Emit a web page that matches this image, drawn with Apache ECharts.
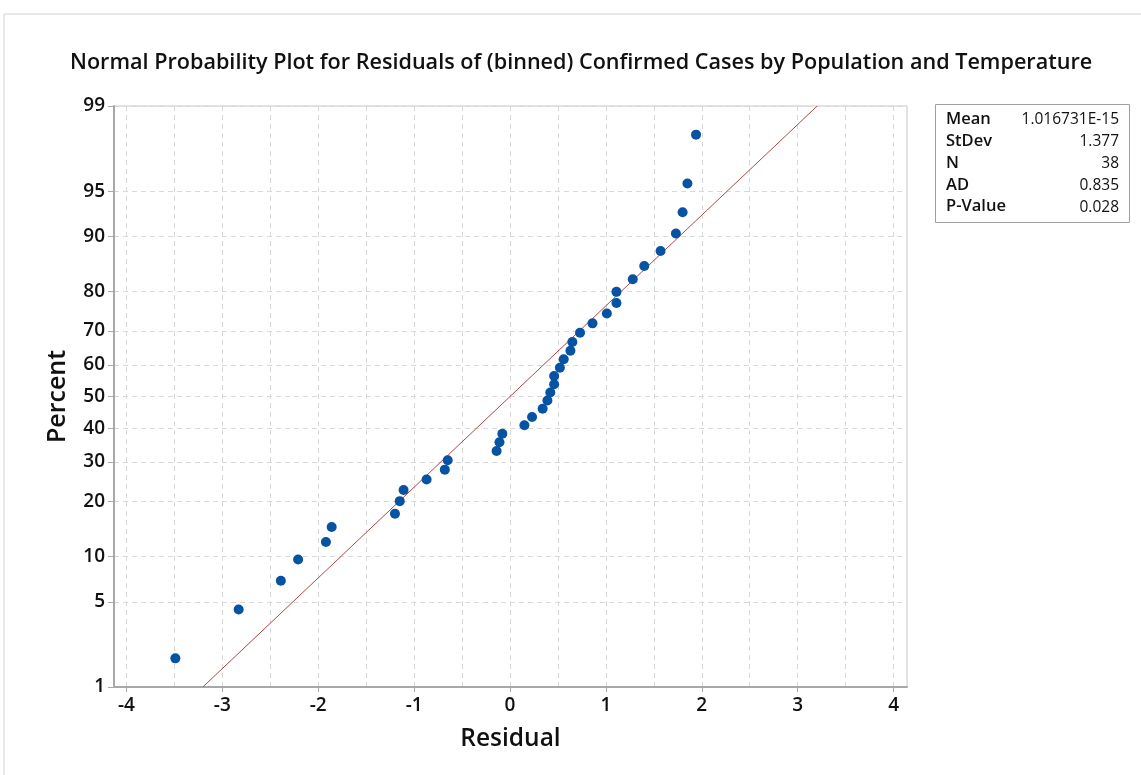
<!DOCTYPE html>
<html><head><meta charset="utf-8">
<script src="https://cdn.jsdelivr.net/npm/echarts@6/dist/echarts.min.js"></script>
<style>html,body{margin:0;padding:0;background:#fff}#c{width:1141px;height:775px}</style>
</head><body><div id="c"></div>
<script>
// Residuals (sorted)
const residuals = [-3.49,-2.83,-2.39,-2.21,-1.92,-1.86,-1.20,-1.15,-1.11,-0.87,-0.68,-0.65,-0.14,-0.11,-0.08,
  0.15,0.23,0.34,0.39,0.42,0.46,0.46,0.52,0.56,0.63,0.65,0.73,0.86,1.01,1.11,1.11,1.28,1.40,1.57,1.73,1.80,1.85,1.94];
// Percent (plotting positions)
const percents = [1.8,4.4,7.0,9.6,12.2,14.8,17.4,20.1,22.7,25.3,27.9,30.5,33.1,35.7,38.3,40.9,43.5,46.1,48.7,
  51.3,53.9,56.5,59.1,61.7,64.3,66.9,69.5,72.1,74.7,77.3,79.9,82.6,85.2,87.8,90.4,93.0,95.6,98.2];
const yTickLabels = [1,5,10,20,30,40,50,60,70,80,90,95,99];
const xTickLabels = [-4,-3,-2,-1,0,1,2,3,4];
const xGridValues = [-4,-3.5,-3,-2.5,-2,-1.5,-1,-0.5,0,0.5,1,1.5,2,2.5,3,3.5,4];
const statLabels = ['Mean','StDev','N','AD','P-Value'];
const statValues = ['1.016731E-15','1.377','38','0.835','0.028'];
const fitMean = 1.016731e-15, fitSd = 1.377;

// Normal probability scale (inverse normal CDF)
function probit(p){
 const a=[-3.969683028665376e+01,2.209460984245205e+02,-2.759285104469687e+02,1.383577518672690e+02,-3.066479806614716e+01,2.506628277459239e+00];
 const b=[-5.447609879822406e+01,1.615858368580409e+02,-1.556989798598866e+02,6.680131188771972e+01,-1.328068155288572e+01];
 const c=[-7.784894002430293e-03,-3.223964580411365e-01,-2.400758277161838e+00,-2.549732539343734e+00,4.374664141464968e+00,2.938163982698783e+00];
 const d=[7.784695709041462e-03,3.224671290700398e-01,2.445134137142996e+00,3.754408661907416e+00];
 const pl=0.02425, ph=1-pl; let q,r;
 if(p<pl){q=Math.sqrt(-2*Math.log(p));return (((((c[0]*q+c[1])*q+c[2])*q+c[3])*q+c[4])*q+c[5])/((((d[0]*q+d[1])*q+d[2])*q+d[3])*q+1);}
 if(p>ph){q=Math.sqrt(-2*Math.log(1-p));return -(((((c[0]*q+c[1])*q+c[2])*q+c[3])*q+c[4])*q+c[5])/((((d[0]*q+d[1])*q+d[2])*q+d[3])*q+1);}
 q=p-0.5;r=q*q;return (((((a[0]*r+a[1])*r+a[2])*r+a[3])*r+a[4])*r+a[5])*q/(((((b[0]*r+b[1])*r+b[2])*r+b[3])*r+b[4])*r+1);
}
const yTickZ = yTickLabels.map(v=>probit(v/100));
const zMin = yTickZ[0], zMax = yTickZ[yTickZ.length-1];
const points = residuals.map((x,i)=>[x, probit(percents[i]/100)]);
const fitLine = [[fitMean+fitSd*zMin, zMin],[fitMean+fitSd*zMax, zMax]];

const FONT = '"Open Sans", "Noto Sans", sans-serif';
const chart = echarts.init(document.getElementById('c'), null, {renderer:'canvas'});
const gridCol = '#d9d9d9';
const graphic = [
  {type:'rect', shape:{x:4,y:14,width:1160,height:800}, style:{fill:'none',stroke:'#d0d0d0',lineWidth:1}, z:-10, silent:true},
  {type:'rect', shape:{x:935.5,y:104.5,width:194,height:118}, style:{fill:'#fff',stroke:'#a0a0a0',lineWidth:1}}
];
statLabels.forEach((l,i)=>{
  graphic.push({type:'text', left:946, top:111+i*21.8, style:{text:l, font:'600 16.5px '+FONT, fill:'#111'}});
  graphic.push({type:'text', right:1141-1119, top:112+i*21.8, style:{text:statValues[i], font:'15.5px '+FONT, fill:'#111', align:'right'}});
});

chart.setOption({
  backgroundColor:'#fff',
  animation:false,
  title:{text:'Normal Probability Plot for Residuals of (binned) Confirmed Cases by Population and Temperature',
    left:70, top:52, padding:0,
    textStyle:{fontFamily:FONT, fontSize:21.6, fontWeight:600, color:'#111'}},
  grid:{left:114, right:234, top:106, bottom:88, show:true, borderColor:'#c8c8c8', borderWidth:1, containLabel:false},
  xAxis:[{
    type:'value', min:-4.13, max:4.14, name:'Residual', nameLocation:'middle', nameGap:40,
    nameTextStyle:{fontFamily:FONT, fontSize:24.5, fontWeight:600, color:'#111'},
    axisLine:{show:true, onZero:false, lineStyle:{color:'#a8a8a8', width:2}},
    axisTick:{show:true, customValues:xTickLabels, length:5, lineStyle:{color:'#a8a8a8'}},
    axisLabel:{customValues:xTickLabels, fontFamily:FONT, fontSize:19, fontWeight:600, color:'#111', margin:9},
    splitLine:{show:false}
  },{
    type:'value', min:-4.13, max:4.14, position:'bottom',
    axisLine:{show:false}, axisTick:{show:false, customValues:xGridValues}, axisLabel:{show:false, customValues:xGridValues},
    splitLine:{show:true, lineStyle:{color:gridCol, type:[5,4], width:1}}
  }],
  yAxis:{
    type:'value', min:zMin, max:zMax, name:'Percent', nameLocation:'middle', nameGap:44, nameRotate:90,
    nameTextStyle:{fontFamily:FONT, fontSize:25, fontWeight:600, color:'#111'},
    axisLine:{show:true, onZero:false, lineStyle:{color:'#a8a8a8', width:2}},
    axisTick:{show:true, customValues:yTickZ, length:6, lineStyle:{color:'#a8a8a8'}},
    axisLabel:{customValues:yTickZ, fontFamily:FONT, fontSize:19, fontWeight:600, color:'#111', margin:9,
      formatter:(v)=>{ for(let i=0;i<yTickZ.length;i++){ if(Math.abs(yTickZ[i]-v)<1e-6) return String(yTickLabels[i]); } return ''; }},
    splitLine:{show:true, lineStyle:{color:gridCol, type:[5,4], width:1}}
  },
  graphic: graphic,
  series:[
    {type:'line', data:fitLine, xAxisIndex:0, showSymbol:false, symbol:'none', clip:true,
      lineStyle:{color:'#b04848', width:1}, z:2},
    {type:'scatter', data:points, xAxisIndex:0, symbol:'circle', symbolSize:10,
      itemStyle:{color:'#0652a3', opacity:1}, z:3}
  ]
});
</script></body></html>
